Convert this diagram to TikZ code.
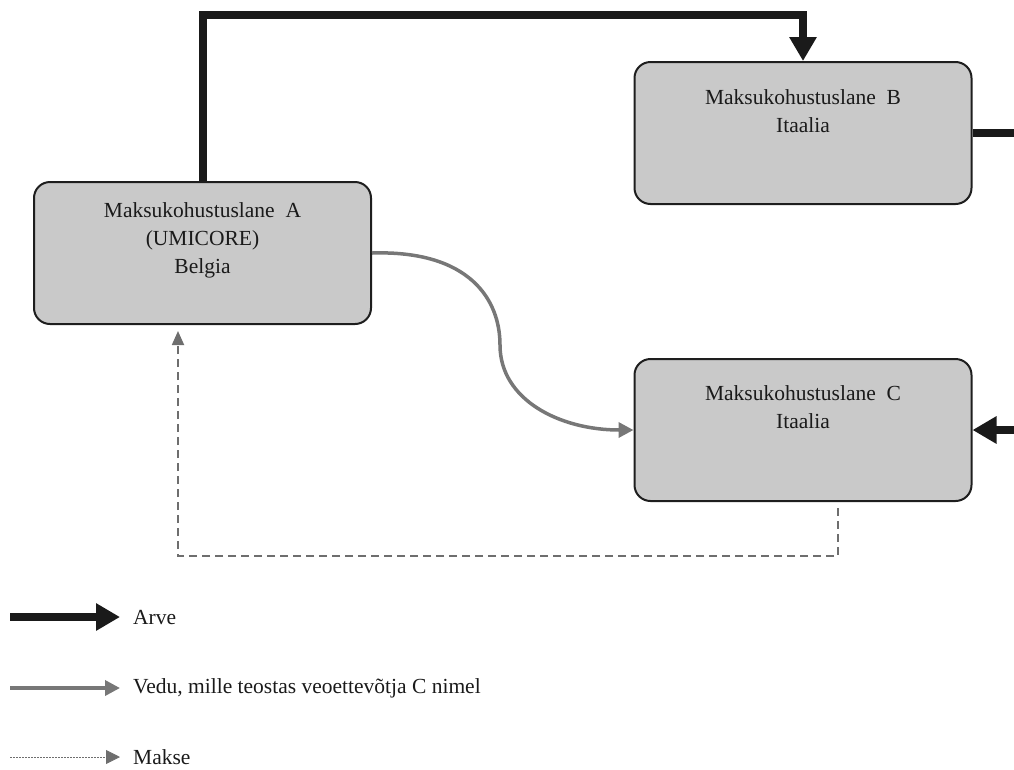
\documentclass[tikz,border=0pt]{standalone}
\usepackage{fontspec}
\setmainfont{Liberation Serif}
\usetikzlibrary{arrows.meta}
\definecolor{boxfill}{HTML}{C9C9C9}
\definecolor{boxline}{HTML}{1E1E1E}
\definecolor{inkblack}{HTML}{1A1A1A}
\definecolor{flowgray}{HTML}{777777}
\definecolor{paygray}{HTML}{6E6E6E}
\begin{document}
\begin{tikzpicture}[x=1pt,y=-1pt,
  party/.style={draw=boxline, line width=2pt, fill=boxfill, rounded corners=16pt,
    minimum width=337pt, minimum height=142pt, inner sep=0pt},
  partytext/.style={anchor=north, align=center, font=\fontsize{21.5}{28}\selectfont,
    text=inkblack, inner sep=0pt},
  invoice/.style={line width=8pt, draw=inkblack, -{Triangle[length=24pt,width=26pt]}},
  invoiceline/.style={line width=8pt, draw=inkblack},
  transport/.style={line width=3.5pt, draw=flowgray, -{Triangle[length=15pt,width=15pt]}},
  payment/.style={line width=1.8pt, draw=paygray, dash pattern=on 8pt off 5pt,
    -{Triangle[length=14pt,width=12pt]}},
  legendpay/.style={line width=0.8pt, draw=paygray, dash pattern=on 1.5pt off 1.5pt,
    -{Triangle[length=14pt,width=14pt]}},
  legendtext/.style={anchor=west, font=\fontsize{21.5}{24}\selectfont, text=inkblack, inner sep=0pt}
]
\useasboundingbox (0,0) rectangle (1014,769);

% boxes
\node[party] (A) at (202.5,253) {};
\node[party] (B) at (803,133) {};
\node[party] (C) at (803,430) {};

\node[partytext] (Atext) at ([yshift=-21pt]A.north) {Maksukohustuslane\ \ A\\(UMICORE)\\Belgia};
\node[partytext] (Btext) at ([yshift=-28pt]B.north) {Maksukohustuslane\ \ B\\Itaalia};
\node[partytext] (Ctext) at ([yshift=-27pt]C.north) {Maksukohustuslane\ \ C\\Itaalia};

% invoice A -> B
\coordinate (topA) at (202.5,15);
\coordinate (topB) at (803,15);
\draw[invoice] (A.north) -- (topA) -- (topB) -- (B.north);

% invoice B -> (off page) and (off page) -> C
\coordinate (rightB) at (1016,133);
\coordinate (rightC) at (1016,430);
\draw[invoiceline] (B.east) -- (rightB);
\draw[invoice] (rightC) -- (C.east);

% transport A -> C
\draw[transport] (A.east) .. controls (470,250) and (500,300) .. (500,345)
  .. controls (500,400) and (560,430) .. (C.west);

% payment C -> A
\coordinate (payStart) at (838,508);
\coordinate (payC) at (838,556);
\coordinate (payA) at (178,556);
\coordinate (payEnd) at (178,331);
\draw[payment] (payStart) -- (payC) -- (payA) -- (payEnd);

% legend
\coordinate (l1s) at (10,617);
\coordinate (l1e) at (120,617);
\coordinate (l2s) at (10,688);
\coordinate (l2e) at (120,688);
\coordinate (l3s) at (10,757);
\coordinate (l3e) at (120,757);
\draw[invoice] (l1s) -- (l1e);
\draw[transport] (l2s) -- (l2e);
\draw[legendpay] (l3s) -- (l3e);
\node[legendtext] (t1) at (133,617) {Arve};
\node[legendtext] (t2) at (133,688) {Vedu,\ mille\ teostas\ veoettevõtja\ C\ nimel};
\node[legendtext] (t3) at (133,757) {Makse};
\end{tikzpicture}
\end{document}
